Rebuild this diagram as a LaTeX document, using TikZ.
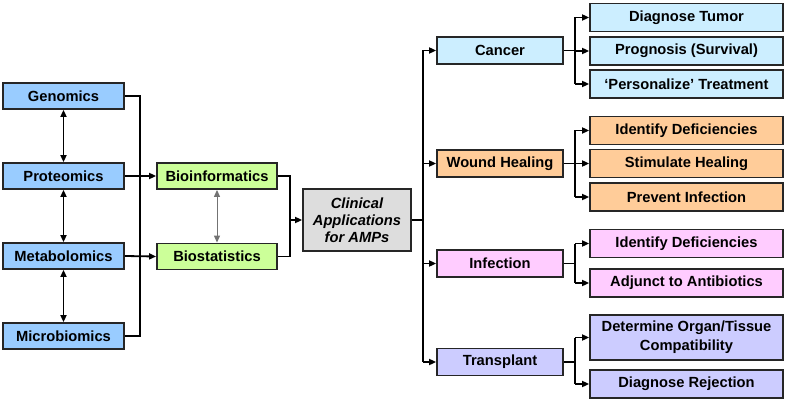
\documentclass[tikz,border=0pt]{standalone}
\usepackage{fontspec}
\setmainfont{Liberation Sans}
\usetikzlibrary{arrows.meta}
\definecolor{cblue}{HTML}{99CCFF}
\definecolor{cgreen}{HTML}{CCFF99}
\definecolor{cgray}{HTML}{DDDDDD}
\definecolor{ccancer}{HTML}{CCEEFF}
\definecolor{corange}{HTML}{FFCC99}
\definecolor{cpink}{HTML}{FFCCFF}
\definecolor{clav}{HTML}{CCCCFF}
\tikzset{
  box/.style={draw=black!85, line width=1.8pt, inner sep=0pt, align=center,
    font=\fontsize{14.7}{17}\selectfont\bfseries},
  leftbox/.style={box, fill=cblue, minimum width=121pt, minimum height=26pt},
  biobox/.style={box, fill=cgreen, minimum width=120pt, minimum height=26pt},
  catbox/.style={box, minimum width=126pt, minimum height=27pt},
  childbox/.style={box, minimum width=193pt, minimum height=28pt},
  conn/.style={line width=1.8pt, black},
  arr/.style={conn, -{Triangle[length=7pt,width=6pt]}},
  darr/.style={conn, {Triangle[length=7pt,width=6pt]}-{Triangle[length=7pt,width=6pt]}},
}
\begin{document}
\begin{tikzpicture}[x=1pt,y=-1pt]
\useasboundingbox (0,0) rectangle (787,401);
% left column
\node[leftbox] (gen) at (63.5,96) {Genomics};
\node[leftbox] (prot) at (63.5,176) {Proteomics};
\node[leftbox] (met) at (63.5,256) {Metabolomics};
\node[leftbox] (mic) at (63.5,336) {Microbiomics};
% bio
\node[biobox] (binf) at (217,176) {Bioinformatics};
\node[biobox] (bstat) at (217,256.5) {Biostatistics};
% clinical
\node[box, fill=cgray, minimum width=108pt, minimum height=62pt,
  font=\fontsize{14.7}{17}\selectfont\bfseries\itshape] (clin) at (357,220) {Clinical\\Applications\\for AMPs};
% categories
\node[catbox, fill=ccancer] (can) at (500,50.5) {Cancer};
\node[catbox, fill=corange] (wnd) at (500,163.5) {Wound Healing};
\node[catbox, fill=cpink] (inf) at (500,263.5) {Infection};
\node[catbox, fill=clav] (tra) at (500,362) {Transplant};
% children
\node[childbox, fill=ccancer] (c1) at (686.5,17.5) {Diagnose Tumor};
\node[childbox, fill=ccancer] (c2) at (686.5,51) {Prognosis (Survival)};
\node[childbox, fill=ccancer] (c3) at (686.5,84) {‘Personalize’ Treatment};
\node[childbox, fill=corange] (w1) at (686.5,130.5) {Identify Deficiencies};
\node[childbox, fill=corange] (w2) at (686.5,163.5) {Stimulate Healing};
\node[childbox, fill=corange] (w3) at (686.5,197) {Prevent Infection};
\node[childbox, fill=cpink] (i1) at (686.5,243.5) {Identify Deficiencies};
\node[childbox, fill=cpink] (i2) at (686.5,283) {Adjunct to Antibiotics};
\node[childbox, fill=clav, minimum height=45pt, font=\fontsize{14.7}{19}\selectfont\bfseries] (t1) at (686.5,337.5) {Determine Organ/Tissue\\Compatibility};
\node[childbox, fill=clav] (t2) at (686.5,384) {Diagnose Rejection};
% coordinates
\coordinate (busL) at (140,0);
\coordinate (busB) at (290,0);
\coordinate (busC) at (423,0);
\coordinate (busK) at (575,0);
% left bus
\draw[conn] (gen.east) -- (busL |- gen.east) -- (busL |- mic.east) -- (mic.east);
\draw[arr] (prot.east) -- (binf.west);
\draw[arr] (met.east) -- (bstat.west);
\draw[darr] (gen.south) -- (prot.north);
\draw[darr] (prot.south) -- (met.north);
\draw[darr] (met.south) -- (mic.north);
\draw[black!55, line width=1pt, {Triangle[length=7pt,width=6pt]}-{Triangle[length=7pt,width=6pt]}] (binf.south) -- (bstat.north);
% bio bus
\draw[conn] (binf.east) -- (busB |- binf.east) -- (busB |- bstat.east) -- (bstat.east);
\draw[arr] (busB |- clin.west) -- (clin.west);
% clinical bus
\draw[conn] (clin.east) -- (busC |- clin.east);
\draw[conn] (busC |- can.west) -- (busC |- tra.west);
\draw[arr] (busC |- can.west) -- (can.west);
\draw[arr] (busC |- wnd.west) -- (wnd.west);
\draw[arr] (busC |- inf.west) -- (inf.west);
\draw[arr] (busC |- tra.west) -- (tra.west);
% cancer
\draw[conn] (can.east) -- (busK |- can.east);
\draw[conn] (busK |- c1.west) -- (busK |- c3.west);
\draw[arr] (busK |- c1.west) -- (c1.west);
\draw[arr] (busK |- c2.west) -- (c2.west);
\draw[arr] (busK |- c3.west) -- (c3.west);
% wound
\draw[conn] (wnd.east) -- (busK |- wnd.east);
\draw[conn] (busK |- w1.west) -- (busK |- w3.west);
\draw[arr] (busK |- w1.west) -- (w1.west);
\draw[arr] (busK |- w2.west) -- (w2.west);
\draw[arr] (busK |- w3.west) -- (w3.west);
% infection
\draw[conn] (inf.east) -- (busK |- inf.east);
\draw[conn] (busK |- i1.west) -- (busK |- i2.west);
\draw[arr] (busK |- i1.west) -- (i1.west);
\draw[arr] (busK |- i2.west) -- (i2.west);
% transplant
\draw[conn] (tra.east) -- (busK |- tra.east);
\draw[conn] (busK |- t1.west) -- (busK |- t2.west);
\draw[arr] (busK |- t1.west) -- (t1.west);
\draw[arr] (busK |- t2.west) -- (t2.west);
\end{tikzpicture}
\end{document}
